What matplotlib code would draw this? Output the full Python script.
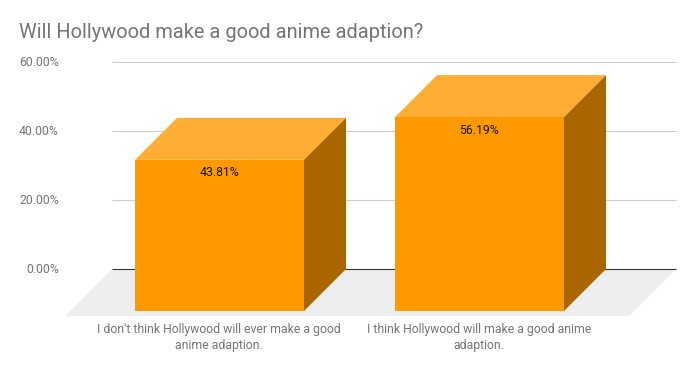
import matplotlib
matplotlib.use("Agg")
import matplotlib.pyplot as plt
from matplotlib.patches import Polygon

plt.rcParams['font.family'] = ['Roboto', 'DejaVu Sans']

title = "Will Hollywood make a good anime adaption?"
categories = ["I don't think Hollywood will ever make a good\nanime adaption.",
              "I think Hollywood will make a good anime\nadaption."]
values = [43.81, 56.19]
y_ticks = [0, 20, 40, 60]
y_tick_labels = ["0.00%", "20.00%", "40.00%", "60.00%"]

W, H = 694, 371
PX_PER_CAT = 260.0
PX_PER_UNIT = 3.45
X0_PX, Y0_PX = 261.5, 269.0
GRAY = "#757575"
FS = 8.85

fig = plt.figure(figsize=(W / 100, H / 100), dpi=100)
ax = fig.add_axes([0, 0, 1, 1])
ax.set_xlim(-X0_PX / PX_PER_CAT, (W - X0_PX) / PX_PER_CAT)
ax.set_ylim((Y0_PX - H) / PX_PER_UNIT, Y0_PX / PX_PER_UNIT)
ax.axis("off")

px_x = 1 / PX_PER_CAT
px_y = 1 / PX_PER_UNIT
bar_half = 84.5 * px_x
depth_x, depth_y = 42 * px_x, 42 * px_y
floor_x, floor_y = 46.7 * px_x, 47 * px_y
wall_l, wall_r = -149.5 * px_x, (676 - X0_PX) * px_x

# gridlines and tick labels
for t, lab in zip(y_ticks, y_tick_labels):
    if t != 0:
        ax.plot([wall_l, wall_r], [t, t], color="#CCCCCC", lw=0.8, zorder=1, solid_capstyle="butt")
    ax.text(-202.5 * px_x, t - 0.7 * px_y, lab, ha="right", va="center", fontsize=FS, color=GRAY)

# floor
ax.add_patch(Polygon([(wall_l, 0), (wall_r, 0), (wall_r - floor_x, -floor_y), (wall_l - floor_x, -floor_y)],
                     closed=True, fc="#EEEEEE", ec="none", zorder=2))
ax.plot([wall_l, wall_r], [0, 0], color="#333333", lw=0.8, zorder=3, solid_capstyle="butt")

# 3D bars
for i, v in enumerate(values):
    l, r = i - bar_half, i + bar_half
    # top
    ax.add_patch(Polygon([(l, v), (r, v), (r - depth_x, v - depth_y), (l - depth_x, v - depth_y)],
                         closed=True, fc="#FFAD33", ec="none", zorder=4))
    # side
    ax.add_patch(Polygon([(r, v), (r, 0), (r - depth_x, -depth_y), (r - depth_x, v - depth_y)],
                         closed=True, fc="#A86500", ec="none", zorder=4))
    # front
    ax.add_patch(Polygon([(l - depth_x, -depth_y), (r - depth_x, -depth_y),
                          (r - depth_x, v - depth_y), (l - depth_x, v - depth_y)],
                         closed=True, fc="#FF9900", ec="none", zorder=5))
    ax.text(i - depth_x - 0.4 * px_x, v - depth_y - 13 * px_y, f"{v:.2f}%", ha="center", va="center",
            fontsize=FS, color="#111111", zorder=6)
    ax.text(i - depth_x - 0.7 * px_x, -54.5 * px_y, categories[i], ha="center", va="top", fontsize=FS,
            color=GRAY, linespacing=1.2)

fig.text(19 / W, 1 - 32.5 / H, title, ha="left", va="center", fontsize=14.4, color=GRAY)
fig.savefig("out.png", dpi=100)
